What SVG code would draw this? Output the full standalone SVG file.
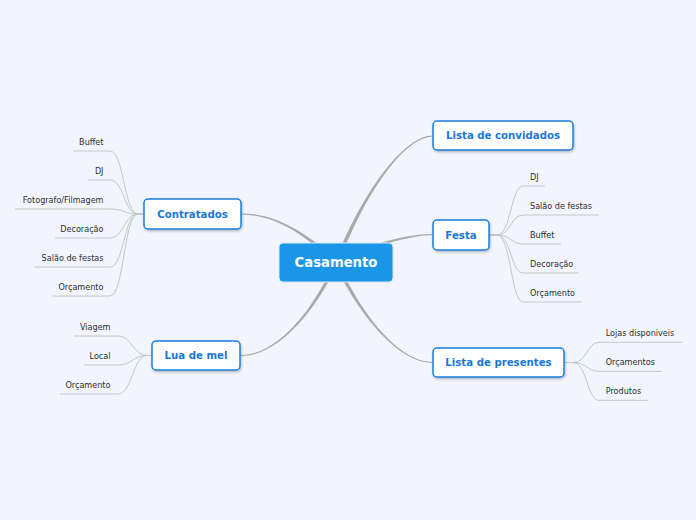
<svg xmlns="http://www.w3.org/2000/svg" width="696" height="520" viewBox="0 0 696 520">
<defs>
<filter id="sh" x="-10%" y="-20%" width="130%" height="160%">
<feDropShadow dx="0.8" dy="1.5" stdDeviation="1" flood-color="#000" flood-opacity="0.25"/>
</filter>
<style>
.bg{fill:#f2f5fd}
.main{fill:#aaaaaa}
.leafc{fill:none;stroke:#c6c6c6;stroke-width:1}
.node{fill:#ffffff;stroke:#1a7ddc;stroke-width:1.5}
.nt{font-family:"DejaVu Sans",Verdana,sans-serif;font-size:10.2px;font-weight:bold;fill:#1a78d8;text-anchor:middle}
.ct{font-family:"DejaVu Sans",Verdana,sans-serif;font-size:13.2px;font-weight:bold;fill:#ffffff;text-anchor:middle}
.lf{font-family:"DejaVu Sans",Verdana,sans-serif;font-size:8.1px;fill:#2e2e2e}
.le{text-anchor:end}
</style>
</defs>
<rect class="bg" x="0" y="0" width="696" height="520"/>
<g id="connectors">
<path class="main" d="M241,214.5 C277,214.9 306.98,237.1 334.64,263.47 L337.36,260.53 C309.02,234.9 277,213.1 241,213.5Z"/>
<path class="main" d="M433,135.5 C405,135.1 363.6,189.46 335.14,261.28 L338.86,262.72 C366.4,190.54 405,136.9 433,136.5Z"/>
<path class="main" d="M433,234 C410,233.6 369.33,243.66 335.11,260.21 L336.89,263.79 C370.67,246.34 410,235.4 433,235Z"/>
<path class="main" d="M241,356 C280,356.4 319.38,305.58 337.84,262.77 L334.16,261.23 C316.62,304.42 280,354.6 241,355Z"/>
<path class="main" d="M433,362 C395,361.6 356.37,304.39 337.83,261.19 L334.17,262.81 C353.63,305.61 395,363.4 433,363Z"/>
<path class="leafc" d="M144,214 H138 C124,214 124,151 110,151 H72.7"/>
<path class="leafc" d="M144,214 H138 C124,214 124,180 110,180 H88.3"/>
<path class="leafc" d="M144,214 H138 C124,214 124,209 110,209 H15"/>
<path class="leafc" d="M144,214 H138 C124,214 124,238 110,238 H55"/>
<path class="leafc" d="M144,214 H138 C124,214 124,267 110,267 H34.3"/>
<path class="leafc" d="M144,214 H138 C124,214 124,296 110,296 H52.3"/>
<path class="leafc" d="M152,355.5 H147 C133,355.5 132,336 118,336 H74"/>
<path class="leafc" d="M152,355.5 H147 C133,355.5 132,365 118,365 H84"/>
<path class="leafc" d="M152,355.5 H147 C133,355.5 132,394 118,394 H60"/>
<path class="leafc" d="M489,235 H497 C511,235 511,186 523,186 H545"/>
<path class="leafc" d="M489,235 H497 C511,235 511,215 523,215 H599"/>
<path class="leafc" d="M489,235 H497 C511,235 511,244 523,244 H561"/>
<path class="leafc" d="M489,235 H497 C511,235 511,273 523,273 H579"/>
<path class="leafc" d="M489,235 H497 C511,235 511,302 523,302 H582"/>
<path class="leafc" d="M564,362.5 H573 C587,362.5 587,342.3 599,342.3 H682"/>
<path class="leafc" d="M564,362.5 H573 C587,362.5 587,371.3 599,371.3 H662"/>
<path class="leafc" d="M564,362.5 H573 C587,362.5 587,400.3 599,400.3 H648"/>
</g>
<g id="casamento">
<rect x="279" y="243" width="114" height="39" rx="4" fill="#1a96e8" stroke="#dbe9f8" stroke-width="1"/>
<text class="ct" x="336" y="267.3">Casamento</text>
</g>
<g id="contratados">
<rect class="node" x="144" y="199" width="97" height="30" rx="4" filter="url(#sh)"/>
<text class="nt" x="192.5" y="217.8">Contratados</text>
</g>
<g id="lua-de-mel">
<rect class="node" x="152" y="341" width="88" height="29" rx="4" filter="url(#sh)"/>
<text class="nt" x="196" y="359.3">Lua de mel</text>
</g>
<g id="lista-de-convidados">
<rect class="node" x="433" y="121" width="140" height="29" rx="4" filter="url(#sh)"/>
<text class="nt" x="503" y="139.3">Lista de convidados</text>
</g>
<g id="festa">
<rect class="node" x="433" y="220" width="56" height="30" rx="4" filter="url(#sh)"/>
<text class="nt" x="461" y="238.8">Festa</text>
</g>
<g id="lista-de-presentes">
<rect class="node" x="433" y="348" width="131" height="29" rx="4" filter="url(#sh)"/>
<text class="nt" x="498.5" y="366.3">Lista de presentes</text>
</g>
<g id="leaves-contratados">
<text class="lf le" x="103.5" y="145">Buffet</text>
<text class="lf le" x="103.5" y="174">DJ</text>
<text class="lf le" x="103.5" y="203">Fotografo/Filmagem</text>
<text class="lf le" x="103.5" y="232">Decoração</text>
<text class="lf le" x="103.5" y="261">Salão de festas</text>
<text class="lf le" x="103.5" y="290">Orçamento</text>
</g>
<g id="leaves-lua-de-mel">
<text class="lf le" x="110.5" y="330">Viagem</text>
<text class="lf le" x="110.5" y="359">Local</text>
<text class="lf le" x="110.5" y="388">Orçamento</text>
</g>
<g id="leaves-festa">
<text class="lf" x="530" y="180">DJ</text>
<text class="lf" x="530" y="209">Salão de festas</text>
<text class="lf" x="530" y="238">Buffet</text>
<text class="lf" x="530" y="267">Decoração</text>
<text class="lf" x="530" y="296">Orçamento</text>
</g>
<g id="leaves-lista-de-presentes">
<text class="lf" x="605.7" y="336.3">Lojas disponiveis</text>
<text class="lf" x="605.7" y="365.3">Orçamentos</text>
<text class="lf" x="605.7" y="394.3">Produtos</text>
</g>
</svg>
